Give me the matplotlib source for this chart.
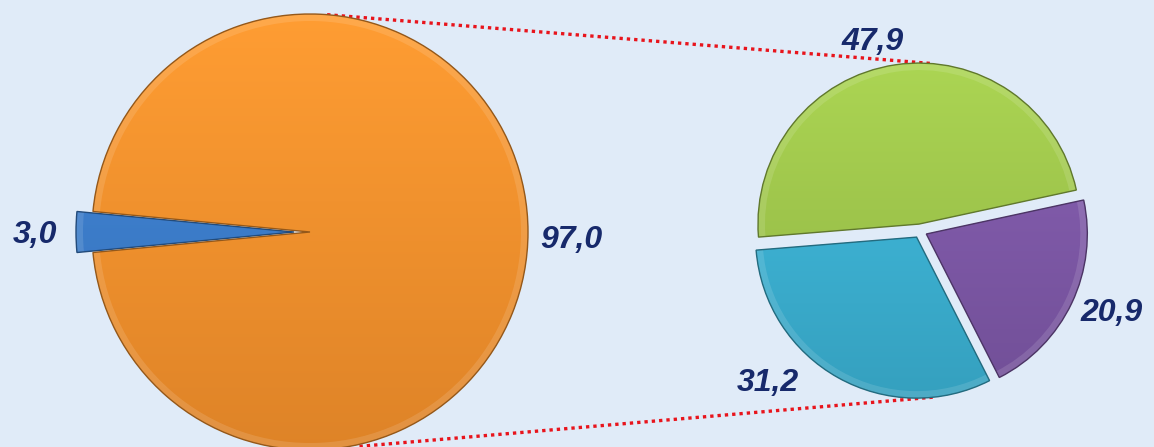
import numpy as np
import matplotlib.pyplot as plt
from matplotlib.patches import Wedge
from matplotlib.colors import to_rgb

# main pie (share of total) and breakdown pie
main_values = [3.0, 97.0]
main_labels = ['3,0', '97,0']
main_colors = ['#3b7dcc', '#f7922c']

sub_values = [47.9, 31.2, 20.9]
sub_labels = ['47,9', '31,2', '20,9']
sub_colors = ['#a0c84b', '#3bb2d4', '#7e58a8']

W, H = 1154, 447
BG = '#e0ebf8'
fig = plt.figure(figsize=(W / 100, H / 100), dpi=100)
fig.patch.set_facecolor(BG)
ax = fig.add_axes([0, 0, 1, 1])
ax.set_facecolor(BG)

big_c, big_r = (310, 215), 218
small_c, small_r = (920, 216), 161


def shade(wedge, color):
    # vertical gradient clipped to the wedge, a light bevel rim and a darker outline
    rgb = np.array(to_rgb(color))
    top = np.clip(rgb * 1.04 + 0.02, 0, 1)
    bot = rgb * 0.9
    t = np.linspace(0, 1, 200)[:, None, None]
    img = bot * (1 - t) + top * t
    cx, cy = wedge.center
    r = wedge.r
    im = ax.imshow(img, extent=(cx - r, cx + r, cy - r, cy + r), origin='lower',
                   interpolation='bilinear', zorder=2)
    im.set_clip_path(wedge)
    rim = Wedge(wedge.center, r, wedge.theta1, wedge.theta2, width=7,
                fc='white', alpha=0.12, lw=0, zorder=2.5)
    ax.add_patch(rim)
    ax.add_patch(Wedge(wedge.center, r, wedge.theta1, wedge.theta2, fill=False,
                       ec=tuple(rgb * 0.6), lw=1.0, zorder=3))


big, _ = ax.pie(main_values, colors=main_colors, startangle=180 - main_values[0] * 1.8,
                counterclock=True, center=big_c, radius=big_r, explode=[16, 0],
                wedgeprops=dict(lw=0))
small, _ = ax.pie(sub_values, colors=sub_colors, startangle=12.2, counterclock=True,
                  center=small_c, radius=small_r, explode=[7, 7, 7],
                  wedgeprops=dict(lw=0))

for w, c in zip(big, main_colors):
    shade(w, c)
for w, c in zip(small, sub_colors):
    shade(w, c)


# connector lines
def on_circle(c, r, ang, off=(0, 0)):
    a = np.deg2rad(ang)
    return c[0] + off[0] + r * np.cos(a), c[1] + off[1] + r * np.sin(a)


p1 = on_circle(big_c, big_r, 85.5)
p2 = on_circle(small_c, small_r, 86, (-1, 7))
p3 = on_circle(big_c, big_r + 2, -77)
p4 = on_circle(small_c, small_r, -84, (-3, -6))
for a, b in [(p1, p2), (p3, p4)]:
    ax.plot([a[0], b[0]], [a[1], b[1]], color='#e8141c', lw=2.4,
            linestyle=(0, (1, 1.2)), zorder=1)

label_pos = {'3,0': (35, 212), '97,0': (571, 207), '47,9': (873, 405),
             '20,9': (1112, 134), '31,2': (768, 64)}
for lab in main_labels + sub_labels:
    x, y = label_pos[lab]
    ax.text(x, y, lab, ha='center', va='center', fontsize=23, fontweight='bold',
            fontstyle='italic', family='Liberation Sans', color='#17296b', zorder=5)

ax.set_xlim(0, W)
ax.set_ylim(0, H)
ax.set_aspect('equal')
ax.axis('off')
fig.savefig('out.png', dpi=100, facecolor=fig.get_facecolor())
